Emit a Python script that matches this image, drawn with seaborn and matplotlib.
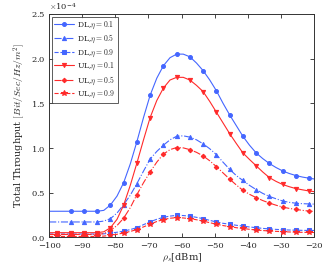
import numpy as np
import pandas as pd
import matplotlib
matplotlib.use("Agg")
import matplotlib.pyplot as plt
import seaborn as sns

# x grid (dBm)
x_dbm = [-100] + [-97.5 + 2 * k for k in range(39)] + [-20]

dl_01 = [0.29, 0.29, 0.29, 0.29, 0.29, 0.29, 0.29, 0.29, 0.30, 0.36, 0.46, 0.61, 0.82, 1.07,
         1.34, 1.59, 1.78, 1.92, 2.01, 2.05, 2.05, 2.02, 1.95, 1.865, 1.76, 1.64, 1.50, 1.37,
         1.25, 1.13, 1.03, 0.944, 0.88, 0.825, 0.78, 0.742, 0.713, 0.69, 0.673, 0.66, 0.652]
dl_05 = [0.17, 0.17, 0.17, 0.17, 0.17, 0.17, 0.17, 0.17, 0.18, 0.207, 0.27, 0.364, 0.47, 0.60,
         0.74, 0.875, 0.96, 1.03, 1.09, 1.13, 1.135, 1.12, 1.09, 1.045, 0.99, 0.925, 0.84, 0.76,
         0.69, 0.635, 0.58, 0.533, 0.49, 0.456, 0.43, 0.405, 0.39, 0.38, 0.375, 0.372, 0.37]
dl_09 = [0.035, 0.035, 0.035, 0.035, 0.035, 0.035, 0.035, 0.035, 0.037, 0.045, 0.055, 0.067, 0.085,
         0.106, 0.14, 0.172, 0.20, 0.222, 0.236, 0.244, 0.242, 0.235, 0.222, 0.207, 0.188, 0.17,
         0.155, 0.145, 0.133, 0.124, 0.114, 0.106, 0.098, 0.092, 0.087, 0.083, 0.08, 0.078, 0.076,
         0.075, 0.075]
ul_01 = [0.05, 0.05, 0.05, 0.05, 0.05, 0.05, 0.05, 0.05, 0.06, 0.105, 0.20, 0.36, 0.58, 0.83,
         1.09, 1.34, 1.53, 1.67, 1.76, 1.79, 1.79, 1.76, 1.70, 1.63, 1.52, 1.40, 1.28, 1.16,
         1.05, 0.944, 0.87, 0.80, 0.73, 0.667, 0.625, 0.59, 0.565, 0.544, 0.53, 0.517, 0.51]
ul_05 = [0.03, 0.03, 0.03, 0.03, 0.03, 0.03, 0.03, 0.03, 0.04, 0.075, 0.13, 0.213, 0.33, 0.476,
         0.61, 0.73, 0.84, 0.93, 0.98, 1.004, 1.00, 0.98, 0.95, 0.91, 0.855, 0.79, 0.72, 0.65,
         0.585, 0.525, 0.48, 0.443, 0.41, 0.382, 0.358, 0.337, 0.322, 0.311, 0.30, 0.292, 0.288]
ul_09 = [0.008, 0.008, 0.008, 0.008, 0.008, 0.008, 0.008, 0.008, 0.012, 0.02, 0.032, 0.047, 0.064,
         0.085, 0.115, 0.145, 0.175, 0.197, 0.212, 0.218, 0.215, 0.207, 0.195, 0.18, 0.162, 0.145,
         0.13, 0.118, 0.106, 0.097, 0.088, 0.08, 0.074, 0.069, 0.065, 0.061, 0.058, 0.056, 0.054,
         0.053, 0.052]

labels = [r"DL,$\eta=0.1$", r"DL,$\eta=0.5$", r"DL,$\eta=0.9$",
          r"UL,$\eta=0.1$", r"UL,$\eta=0.5$", r"UL,$\eta=0.9$"]
series = [dl_01, dl_05, dl_09, ul_01, ul_05, ul_09]

x_ticks = [-100, -90, -80, -70, -60, -50, -40, -30, -20]
y_ticks = [0, 0.5, 1.0, 1.5, 2.0, 2.5]

sns.set_style("ticks")
plt.rcParams["font.family"] = ["DejaVu Serif"]
plt.rcParams["mathtext.fontset"] = "cm"
plt.rcParams["xtick.direction"] = "in"
plt.rcParams["ytick.direction"] = "in"

blue = "#4466ff"
red = "#ff2a2a"
styles = [
    dict(color=blue, ls="-", marker="o", ms=2.8, me=slice(3, 40, 2)),
    dict(color=blue, ls="-.", marker="^", ms=3.0, me=slice(3, 40, 2)),
    dict(color=blue, ls="--", marker="s", ms=2.6, me=slice(1, 40, 2)),
    dict(color=red, ls="-", marker="v", ms=3.0, me=slice(1, 40, 2)),
    dict(color=red, ls="-.", marker="D", ms=2.3, me=slice(1, 40, 2)),
    dict(color=red, ls="--", marker="*", ms=3.8, me=slice(1, 40, 2)),
]

rows = []
for lab, vals in zip(labels, series):
    for xv, yv in zip(x_dbm, vals):
        rows.append({"x": xv, "y": yv * 1e-4, "series": lab})
df = pd.DataFrame(rows)

fig = plt.figure(figsize=(3.32, 2.79), dpi=100)
ax = fig.add_axes([0.148, 0.150, 0.798, 0.800])

for lab, st in zip(labels, styles):
    sub = df[df["series"] == lab]
    sns.lineplot(data=sub, x="x", y="y", ax=ax, color=st["color"], linestyle=st["ls"],
                 marker=st["marker"], markersize=st["ms"], markevery=st["me"],
                 markeredgecolor=st["color"], markerfacecolor=st["color"],
                 linewidth=0.8, label=lab, sort=False, estimator=None)

ax.set_xlim(-100, -20)
ax.set_ylim(0, 2.5e-4)
ax.set_xticks(x_ticks)
ax.set_yticks([v * 1e-4 for v in y_ticks])
ax.ticklabel_format(axis="y", style="sci", scilimits=(-4, -4), useMathText=True)
ax.yaxis.get_offset_text().set_fontsize(6)
ax.tick_params(labelsize=6, top=True, right=True, length=3, width=0.6)
ax.tick_params(axis="x", pad=3.5)
ax.tick_params(axis="y", pad=2.5)
for sp in ax.spines.values():
    sp.set_linewidth(0.7)
    sp.set_color("#333333")

ax.set_xlabel(r"$\rho_s$[dBm]", fontsize=7, labelpad=1)
ax.set_ylabel(r"Total Throughput $[Bit/Sec/Hz/m^2]$", fontsize=7, labelpad=3)

leg = ax.legend(loc="upper left", fontsize=5.5, frameon=True, fancybox=False,
                edgecolor="#333333", handlelength=2.6, borderpad=0.35, labelspacing=0.3,
                borderaxespad=0.35, handletextpad=0.4)
leg.get_frame().set_linewidth(0.7)

fig.savefig("out.png", dpi=100)
